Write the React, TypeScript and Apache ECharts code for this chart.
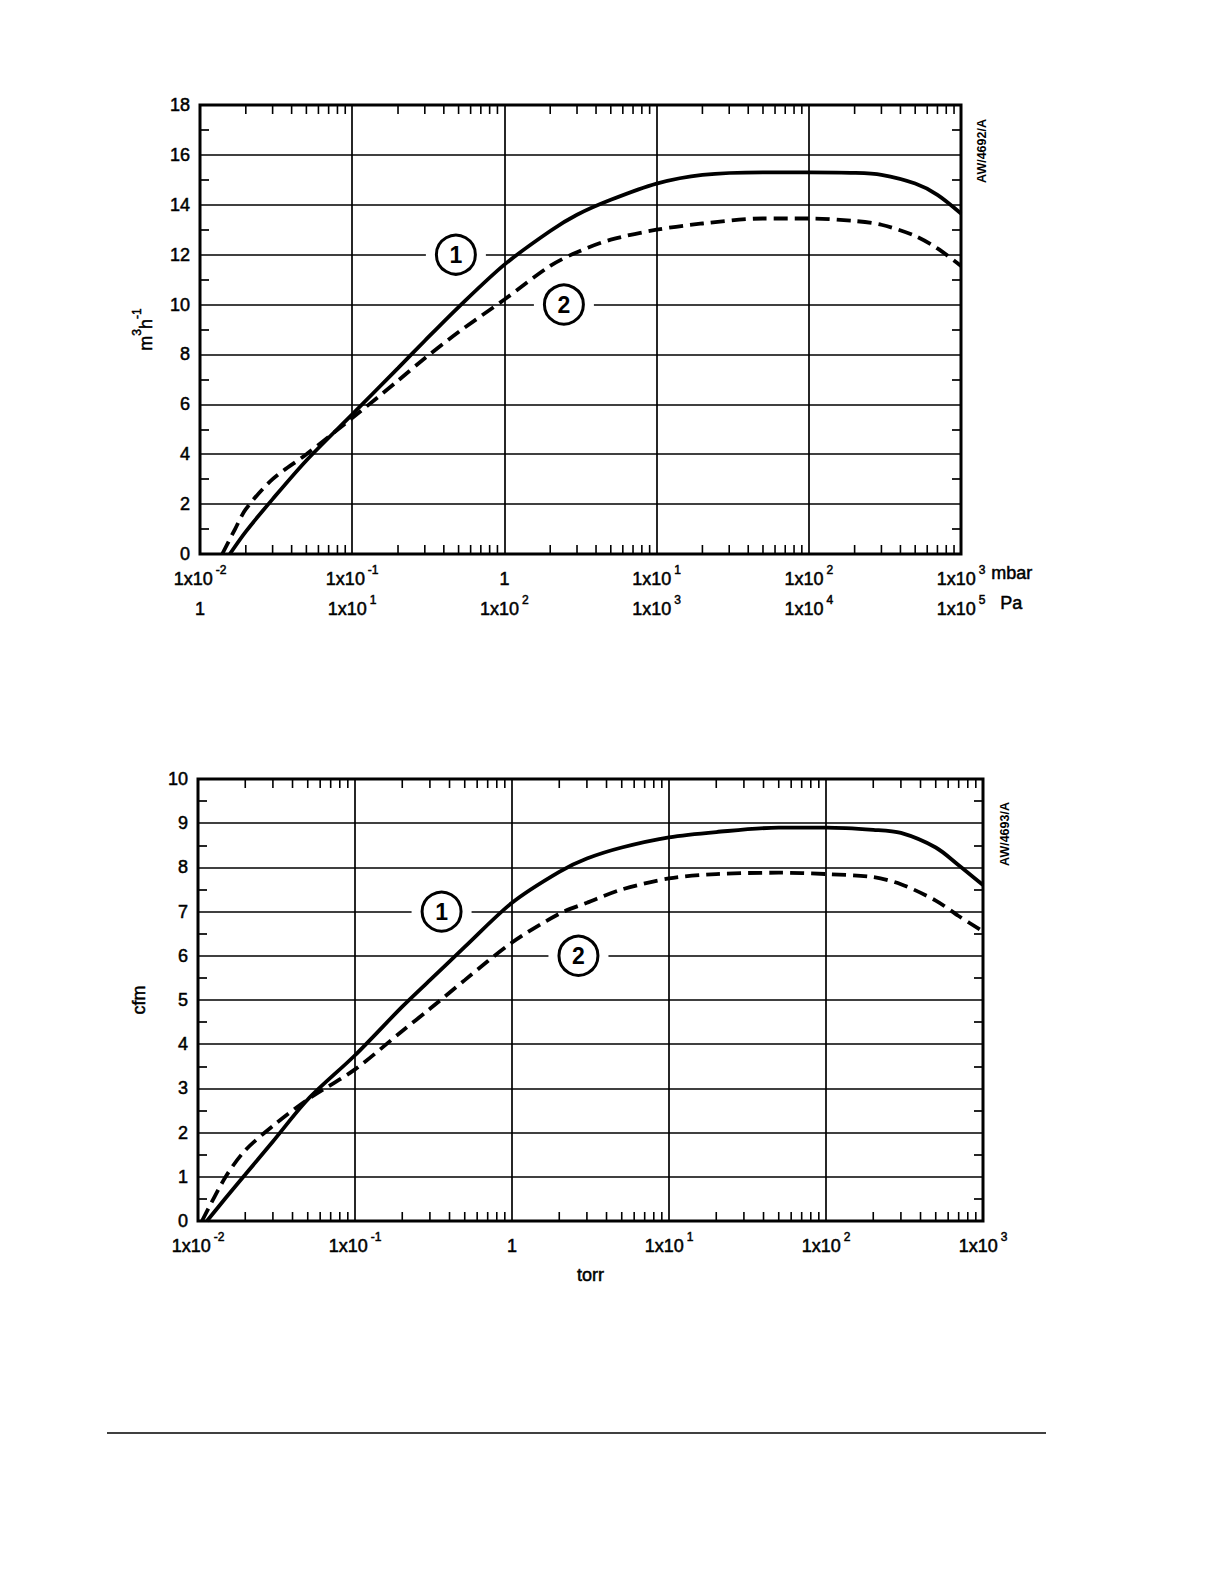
import React, { useEffect, useRef } from "react";
import * as echarts from "echarts";

// ---- Data: top chart (pressure in mbar, pumping speed in m3/h) ----
const mbarCurve1X = [0.0157, 0.02, 0.03, 0.05, 0.1, 0.2, 0.3, 0.5, 1, 2, 3, 5, 10, 20, 50, 100, 200, 300, 500, 700, 1000];
const mbarCurve1Y = [0, 0.9, 2.2, 3.75, 5.6, 7.45, 8.55, 9.9, 11.6, 12.95, 13.6, 14.2, 14.85, 15.2, 15.3, 15.3, 15.28, 15.2, 14.85, 14.4, 13.65];
const mbarCurve2X = [0.014, 0.017, 0.02, 0.03, 0.05, 0.1, 0.2, 0.3, 0.5, 1, 2, 3, 5, 10, 20, 50, 100, 200, 300, 500, 700, 1000];
const mbarCurve2Y = [0, 1.0, 1.8, 3.0, 4.0, 5.45, 6.95, 7.85, 8.9, 10.2, 11.55, 12.1, 12.6, 13.0, 13.25, 13.45, 13.45, 13.35, 13.2, 12.75, 12.25, 11.55];

// ---- Data: bottom chart (pressure in torr, pumping speed in cfm) ----
const torrCurve1X = [0.0114, 0.015, 0.02, 0.03, 0.05, 0.1, 0.2, 0.3, 0.5, 1, 2, 3, 5, 10, 20, 50, 100, 200, 300, 500, 700, 1000];
const torrCurve1Y = [0, 0.52, 1.05, 1.8, 2.75, 3.75, 4.85, 5.45, 6.2, 7.2, 7.9, 8.2, 8.45, 8.68, 8.8, 8.9, 8.9, 8.85, 8.78, 8.45, 8.05, 7.6];
const torrCurve2X = [0.0106, 0.015, 0.02, 0.03, 0.05, 0.1, 0.2, 0.3, 0.5, 1, 2, 3, 5, 10, 20, 50, 100, 200, 300, 500, 700, 1000];
const torrCurve2Y = [0, 1.0, 1.6, 2.15, 2.75, 3.43, 4.3, 4.8, 5.45, 6.3, 6.95, 7.2, 7.5, 7.75, 7.85, 7.88, 7.85, 7.78, 7.62, 7.25, 6.9, 6.55];

// ---- Circled curve labels [x, y, text] ----
const mbarLabel1 = [0.48, 12, "1"];
const mbarLabel2 = [2.46, 10, "2"];
const torrLabel1 = [0.356, 7, "1"];
const torrLabel2 = [2.65, 6, "2"];

// ---- Axis ranges / ticks ----
const xMin = 0.01;
const xMax = 1000;
const mbarYMax = 18;
const mbarYInterval = 2;
const cfmYMax = 10;
const cfmYInterval = 1;
const paExponentOffset = 2; // 1 mbar = 100 Pa
const decadeStarts = [0.01, 0.1, 1, 10, 100];
const minorMultipliers = [2, 3, 4, 5, 6, 7, 8, 9];

const FONT = "'Liberation Sans', Arial, Helvetica, sans-serif";
const FS = 18;
const SUP = 12;
const INK = { textBorderColor: "#000", textBorderWidth: 0.5 };

const zip = (xs: number[], ys: number[]) => xs.map((x, i) => [x, ys[i]]);

const expLabel = (n: number) => (n === 0 ? "{b|1}" : `{b|1x10}{s|${n}}`);

const richSup = {
  b: { fontSize: FS, lineHeight: 24, fontFamily: FONT, color: "#000", verticalAlign: "bottom", ...INK },
  s: { fontSize: SUP, lineHeight: 12, fontFamily: FONT, color: "#000", verticalAlign: "top", padding: [0, 0, 0, 3], ...INK },
};

const richName = {
  b: { fontSize: FS, lineHeight: 24, fontFamily: FONT, color: "#000", verticalAlign: "bottom", ...INK },
  s: { fontSize: SUP, lineHeight: 12, fontFamily: FONT, color: "#000", verticalAlign: "top", ...INK },
};

const minorTickValues: number[] = [];
decadeStarts.forEach((d) => minorMultipliers.forEach((m) => minorTickValues.push(d * m)));

function circled(p: any[]) {
  return {
    silent: true,
    animation: false,
    data: [
      {
        coord: [p[0], p[1]],
        symbol: "rect",
        symbolSize: [60, 7],
        itemStyle: { color: "#fff" },
        label: { show: false },
      },
      {
        coord: [p[0], p[1]],
        symbol: "circle",
        symbolSize: 39,
        itemStyle: { color: "#fff", borderColor: "#000", borderWidth: 3 },
        label: {
          show: true,
          position: "inside",
          formatter: String(p[2]),
          fontSize: 23,
          fontWeight: "bold",
          fontFamily: FONT,
          color: "#000",
        },
      },
    ],
  };
}

function xAxisBase(gridIndex: number, offsetExp: number, showLines: boolean, offset: number) {
  return {
    type: "log",
    logBase: 10,
    gridIndex,
    min: xMin,
    max: xMax,
    position: "bottom",
    offset,
    axisLine: { show: false },
    axisTick: { show: false },
    splitLine: { show: showLines, lineStyle: { color: "#000", width: 1.7 } },
    axisLabel: {
      margin: 10,
      formatter: (v: number) => expLabel(Math.round(Math.log10(v)) + offsetExp),
      rich: richSup,
    },
  };
}

function yAxisBase(gridIndex: number, max: number, interval: number, right: boolean) {
  return {
    type: "value",
    gridIndex,
    min: 0,
    max,
    interval,
    position: right ? "right" : "left",
    axisLine: { show: false },
    axisTick: { show: false, inside: true },
    minorTick: { show: true, splitNumber: 2, length: 9, lineStyle: { color: "#000", width: 1.7 } },
    splitLine: { show: !right, lineStyle: { color: "#000", width: 1.7 } },
    minorSplitLine: { show: false },
    axisLabel: {
      show: !right,
      margin: 10,
      fontSize: FS,
      fontFamily: FONT,
      color: "#000",
      ...INK,
    },
  };
}

function minorTickSeries(xAxisIndex: number, yAxisIndex: number) {
  return {
    type: "custom",
    xAxisIndex,
    yAxisIndex,
    silent: true,
    z: 3,
    data: minorTickValues.map((v) => [v, 0]),
    renderItem: (params: any, api: any) => {
      const x = api.coord([api.value(0), api.value(1)])[0];
      const cs = params.coordSys;
      const yb = cs.y + cs.height;
      const yt = cs.y;
      return {
        type: "group",
        children: [
          { type: "line", shape: { x1: x, y1: yb, x2: x, y2: yb - 9 }, style: { stroke: "#000", lineWidth: 1.6 } },
          { type: "line", shape: { x1: x, y1: yt, x2: x, y2: yt + 9 }, style: { stroke: "#000", lineWidth: 1.6 } },
        ],
      };
    },
  };
}

function curve(xAxisIndex: number, yAxisIndex: number, data: number[][], dashed: boolean, label: any[]) {
  return {
    type: "line",
    xAxisIndex,
    yAxisIndex,
    data,
    showSymbol: false,
    smooth: 0.3,
    z: 4,
    lineStyle: { color: "#000", width: 3.8, type: dashed ? [14, 7] : "solid" },
    markPoint: circled(label),
  };
}

export default function App() {
  const ref = useRef<HTMLDivElement>(null);

  useEffect(() => {
    if (!ref.current) return;
    const chart = echarts.init(ref.current, undefined, { renderer: "svg" });

    const G0 = { left: 200, top: 105, width: 761, height: 449 };
    const G1 = { left: 198, top: 779, width: 785, height: 442 };

    const option: any = {
      animation: false,
      backgroundColor: "#fff",
      textStyle: { fontFamily: FONT },
      grid: [
        { ...G0, show: true, borderColor: "#000", borderWidth: 3, backgroundColor: "transparent", z: 5 },
        { ...G1, show: true, borderColor: "#000", borderWidth: 3, backgroundColor: "transparent", z: 5 },
      ],
      xAxis: [
        xAxisBase(0, 0, true, 0),
        xAxisBase(0, paExponentOffset, false, 30),
        {
          ...xAxisBase(1, 0, true, 0),
          name: "torr",
          nameLocation: "middle",
          nameGap: 45,
          nameTextStyle: { fontSize: FS, fontFamily: FONT, color: "#000", ...INK },
        },
      ],
      yAxis: [
        {
          ...yAxisBase(0, mbarYMax, mbarYInterval, false),
          name: "{b|m}{s|3}{b|h}{s|-1}",
          nameLocation: "middle",
          nameRotate: 90,
          nameGap: 45,
          nameTextStyle: { rich: richName },
        },
        yAxisBase(0, mbarYMax, mbarYInterval, true),
        {
          ...yAxisBase(1, cfmYMax, cfmYInterval, false),
          name: "cfm",
          nameLocation: "middle",
          nameRotate: 90,
          nameGap: 50,
          nameTextStyle: { fontSize: FS, fontFamily: FONT, color: "#000", ...INK },
        },
        yAxisBase(1, cfmYMax, cfmYInterval, true),
      ],
      series: [
        minorTickSeries(0, 0),
        minorTickSeries(2, 2),
        curve(0, 0, zip(mbarCurve1X, mbarCurve1Y), false, mbarLabel1),
        curve(0, 0, zip(mbarCurve2X, mbarCurve2Y), true, mbarLabel2),
        curve(2, 2, zip(torrCurve1X, torrCurve1Y), false, torrLabel1),
        curve(2, 2, zip(torrCurve2X, torrCurve2Y), true, torrLabel2),
      ],
      graphic: [
        {
          type: "text",
          left: G0.left + G0.width + 30,
          top: G0.top + G0.height + 10,
          style: { text: "mbar", fontSize: FS, fontFamily: FONT, fill: "#000", stroke: "#000", lineWidth: 0.5 },
        },
        {
          type: "text",
          left: G0.left + G0.width + 39,
          top: G0.top + G0.height + 40,
          style: { text: "Pa", fontSize: FS, fontFamily: FONT, fill: "#000", stroke: "#000", lineWidth: 0.5 },
        },
        {
          type: "text",
          x: G0.left + G0.width + 21,
          y: G0.top + 46,
          rotation: Math.PI / 2,
          style: {
            text: "AW/4692/A",
            fontSize: 12.5,
            fontWeight: "bold",
            fontFamily: FONT,
            fill: "#000",
            align: "center",
            verticalAlign: "middle",
          },
        },
        {
          type: "text",
          x: G1.left + G1.width + 22,
          y: G1.top + 55,
          rotation: Math.PI / 2,
          style: {
            text: "AW/4693/A",
            fontSize: 12.5,
            fontWeight: "bold",
            fontFamily: FONT,
            fill: "#000",
            align: "center",
            verticalAlign: "middle",
          },
        },
        {
          type: "line",
          shape: { x1: 107, y1: 1433, x2: 1046, y2: 1433 },
          style: { stroke: "#000", lineWidth: 1.5 },
        },
      ],
    };

    chart.setOption(option);
    return () => chart.dispose();
  }, []);

  return (
    <div
      ref={ref}
      style={{ position: "absolute", left: 0, top: 0, width: 1224, height: 1584, background: "#fff" }}
    />
  );
}
